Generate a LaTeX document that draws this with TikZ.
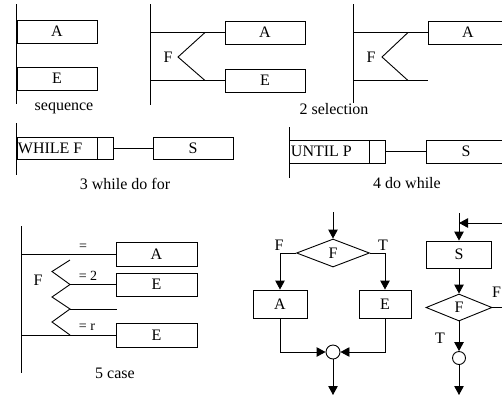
\documentclass[tikz,border=0pt]{standalone}
\usepackage{fontspec}
\setmainfont{Liberation Serif}
\usetikzlibrary{shapes.geometric,arrows.meta}
\begin{document}
\begin{tikzpicture}[x=1pt,y=-1pt, line width=0.9pt,
  every node/.style={font=\fontsize{16}{18}\selectfont, inner sep=0pt},
  box/.style={draw, rectangle, minimum height=23pt, minimum width=80pt},
  fbox/.style={draw, rectangle, minimum height=28pt},
  arr/.style={-{Triangle[length=9pt,width=9.5pt]}},
  dia/.style={draw, diamond, inner sep=0pt},
  junc/.style={draw, circle, minimum size=14pt},
  small/.style={font=\fontsize{14}{16}\selectfont}]
\useasboundingbox (0,0) rectangle (502,397);

% ---------- 1 sequence ----------
\coordinate (s1t) at (16,4); \coordinate (s1b) at (16,104);
\draw (s1t) -- (s1b);
\node[box] (sA) at (57,31.5) {A};
\node[box] (sB) at (57,78.5) {E};
\node (seqL) at (64,108) {sequence};

% ---------- 2 selection (left) ----------
\coordinate (p1t) at (150,4); \coordinate (p1b) at (150,105);
\draw (p1t) -- (p1b);
\node[box] (selA) at (265,32.5) {A};
\node[box] (selB) at (265,80.5) {E};
\coordinate (selT) at (150,32.5); \coordinate (selBt) at (150,80.5);
\draw (selT) -- (selA.west);
\draw (selBt) -- (selB.west);
\draw (205,32.5) -- (178,57) -- (205,80.5);
\node (selP) at (168,57) {F};

% ---------- 2 selection (right) ----------
\coordinate (p2t) at (353,4); \coordinate (p2b) at (353,103);
\draw (p2t) -- (p2b);
\node[box] (sel2A) at (468,32.5) {A};
\coordinate (sel2T) at (353,32.5);
\coordinate (sel2B) at (353,80.5); \coordinate (sel2e) at (428,80.5);
\draw (sel2T) -- (sel2A.west);
\draw (sel2B) -- (sel2e);
\draw (408,32.5) -- (382,57) -- (408,80.5);
\node (sel2P) at (371,57) {F};
\node (selL) at (334,109) {2 selection};

% ---------- 3 while ----------
\coordinate (w1t) at (16,123); \coordinate (w1b) at (16,175);
\draw (w1t) -- (w1b);
\node[box, minimum height=22pt] (wh) at (57,148) {};
\node[anchor=west] (whT) at (17.5,148) {WHILE F};
\node[draw, minimum width=16pt, minimum height=22pt] (whc) at (105,148) {};
\node[box, minimum height=22pt] (whS) at (193,148) {S};
\draw (whc.east) -- (whS.west);
\node (whL) at (125,184) {3 while do for};

% ---------- 4 do while ----------
\coordinate (u1t) at (289,127); \coordinate (u1b) at (289,178);
\draw (u1t) -- (u1b);
\node[box] (un) at (329,151.5) {};
\node[anchor=west] (unT) at (290.5,151.5) {UNTIL P};
\node[draw, minimum width=16pt, minimum height=23pt] (unc) at (377,151.5) {};
\node[box] (unS) at (466,151.5) {S};
\draw (unc.east) -- (unS.west);
\node (unL) at (407,183) {4 do while};

% ---------- 5 case ----------
\coordinate (c1t) at (21,226); \coordinate (c1b) at (21,373);
\draw (c1t) -- (c1b);
\node[box, minimum width=81pt, minimum height=24pt] (cA) at (156.5,254) {A};
\node[box, minimum width=81pt, minimum height=23pt] (cB) at (156.5,284.5) {E};
\node[box, minimum width=81pt, minimum height=24pt] (cN) at (156.5,335) {E};
\coordinate (cAl) at (21,254); \coordinate (cBl) at (70,284.5);
\coordinate (cEl) at (70,309); \coordinate (cEr) at (117,309);
\coordinate (cNl) at (21,335);
\draw (cAl) -- (cA.west);
\draw (cBl) -- (cB.west);
\draw (cEl) -- (cEr);
\draw (cNl) -- (cN.west);
\draw (70,260) -- (52,271.5) -- (70,284.5) -- (52,297) -- (70,309) -- (52,322) -- (70,335);
\node[small] (eq1) at (83,247) {=};
\node[small] (eq2) at (88,276) {= 2};
\node[small] (eqn) at (87,327) {= r};
\node (caseP) at (38,280) {F};
\node (caseL) at (115,373) {5 case};

% ---------- flowchart: selection ----------
\coordinate (f1top) at (333,212);
\node[dia, minimum width=73pt, minimum height=28pt] (d1) at (333,253) {F};
\node[fbox, minimum width=54pt] (fA) at (280,304) {A};
\node[fbox, minimum width=52pt] (fB) at (385,304) {E};
\node[junc] (j1) at (333,352) {};
\coordinate (f1bot) at (333,395);
\draw[arr] (f1top) -- (d1.north);
\draw[arr] (d1.west) -| (fA.north);
\draw[arr] (d1.east) -| (fB.north);
\draw[arr] (fA.south) |- (j1.west);
\draw[arr] (fB.south) |- (j1.east);
\draw[arr] (j1.south) -- (f1bot);
\node (f1F) at (279,245) {F};
\node (f1T) at (383,245) {T};

% ---------- flowchart: do while ----------
\coordinate (f2top) at (459,213);
\coordinate (f2in) at (503,223);
\coordinate (f2j) at (459,223);
\node[fbox, minimum width=65pt, minimum height=27pt] (fS) at (459,254.5) {S};
\node[dia, minimum width=66pt, minimum height=27pt] (d2) at (459,307.5) {F};
\node[junc, minimum size=13pt] (j2) at (459,358) {};
\coordinate (f2out) at (503,307.5);
\coordinate (f2bot) at (459,395);
\draw[arr] (f2in) -- (f2j);
\draw[arr] (f2top) -- (fS.north);
\draw[arr] (fS.south) -- (d2.north);
\draw (d2.east) -- (f2out);
\draw[arr] (d2.south) -- (j2.north);
\draw[arr] (j2.south) -- (f2bot);
\node (f2F) at (496.5,292) {F};
\node (f2T) at (440,338) {T};
\end{tikzpicture}
\end{document}
